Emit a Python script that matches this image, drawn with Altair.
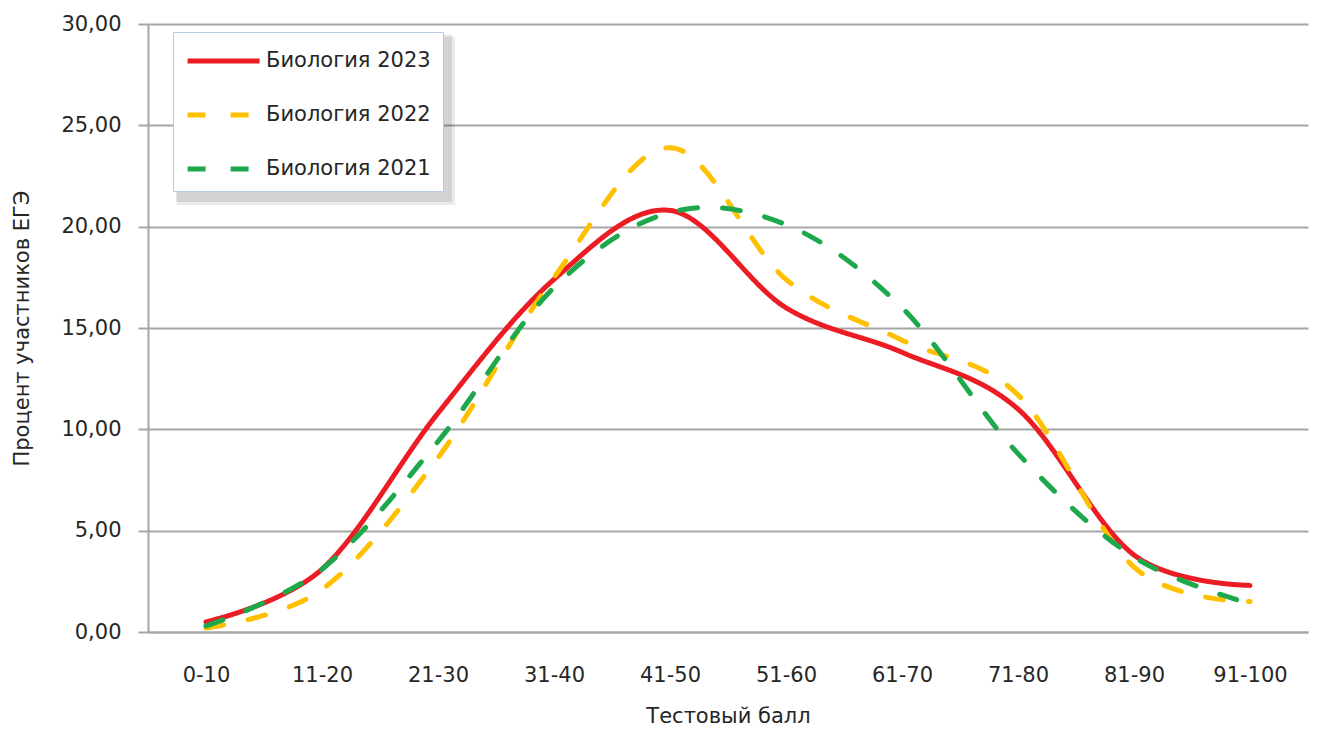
import altair as alt
import pandas as pd

categories = ["0-10", "11-20", "21-30", "31-40", "41-50", "51-60", "61-70", "71-80", "81-90", "91-100"]
series_names = ["Биология 2023", "Биология 2022", "Биология 2021"]
bio_2023 = [0.5, 3.1, 10.8, 17.4, 20.8, 16.0, 13.8, 11.0, 3.8, 2.3]
bio_2022 = [0.2, 2.1, 8.6, 17.5, 23.9, 17.4, 14.4, 11.7, 3.2, 1.5]
bio_2021 = [0.3, 3.1, 9.4, 17.0, 20.7, 20.1, 16.0, 8.8, 3.7, 1.4]
colors = ["#ec1c24", "#ffc000", "#1ea84c"]
y_ticks = [0, 5, 10, 15, 20, 25, 30]

rows = []
for name, vals in zip(series_names, [bio_2023, bio_2022, bio_2021]):
    for c, v in zip(categories, vals):
        rows.append({"Балл": c, "Процент": v, "Серия": name})
df = pd.DataFrame(rows)

W, H = 1160, 608
FONT = "DejaVu Sans"
GRID = "#a6a6a6"
TXT = "#262626"

legend = alt.Legend(
    title=None, orient="none", legendX=25, legendY=8,
    fillColor="white", strokeColor="#b9cbe0", padding=12,
    symbolType="M-1,0L4,0", symbolSize=829, symbolStrokeWidth=5,
    labelFont=FONT, labelFontSize=21, labelColor=TXT, labelOffset=47,
    labelLimit=400, rowPadding=27,
)

dummy = pd.DataFrame({"a": [0]})
shadow1 = alt.Chart(dummy).mark_rect(color="#000000", opacity=0.08).encode(
    x=alt.value(29), x2=alt.value(307), y=alt.value(13), y2=alt.value(181))
shadow2 = alt.Chart(dummy).mark_rect(color="#000000", opacity=0.10).encode(
    x=alt.value(28), x2=alt.value(304), y=alt.value(11), y2=alt.value(178))

lines = alt.Chart(df).mark_line(
    strokeWidth=5, strokeCap="round", strokeJoin="round", interpolate="cardinal"
).encode(
    x=alt.X("Балл:N", sort=categories,
            scale=alt.Scale(type="point", padding=0.5),
            axis=alt.Axis(title="Тестовый балл", labelAngle=0, ticks=False, tickSize=0,
                          labelPadding=32, grid=False,
                          titleX=W / 2, titleY=84, titleAlign="center", titleBaseline="middle")),
    y=alt.Y("Процент:Q", scale=alt.Scale(domain=[0, 30], nice=False),
            axis=alt.Axis(title="Процент участников ЕГЭ", values=y_ticks,
                          labelExpr="replace(format(datum.value, '.2f'), '.', ',')",
                          tickSize=10, labelPadding=17,
                          titleX=-126, titleY=H / 2, titleAngle=-90,
                          titleAlign="center", titleBaseline="middle")),
    color=alt.Color("Серия:N", sort=series_names,
                    scale=alt.Scale(domain=series_names, range=colors), legend=legend),
    strokeDash=alt.StrokeDash("Серия:N", sort=series_names,
                              scale=alt.Scale(domain=series_names, range=[[1, 0], [18, 25], [18, 25]]),
                              legend=legend),
)

chart = alt.layer(shadow1, shadow2, lines).properties(
    width=W, height=H,
    autosize=alt.AutoSizeParams(type="none"),
    padding={"left": 140, "top": 16, "right": 1, "bottom": 100},
).configure_view(stroke=None).configure_axis(
    labelFont=FONT, labelFontSize=21, labelColor=TXT,
    titleFont=FONT, titleFontSize=21, titleColor=TXT, titleFontWeight="normal",
    gridColor=GRID, gridWidth=2, domainColor=GRID, domainWidth=2,
    tickColor=GRID, tickWidth=2,
)

chart.save("out.html", embed_options={"renderer": "svg", "actions": False})
